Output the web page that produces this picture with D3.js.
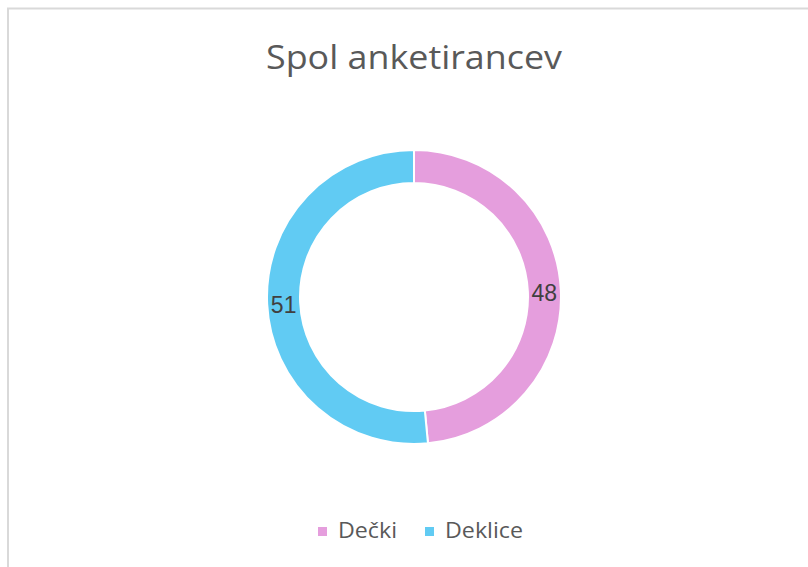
<!DOCTYPE html>
<html><head><meta charset="utf-8">
<script src="https://cdn.jsdelivr.net/npm/d3@7"></script>
<style>html,body{margin:0;padding:0;background:#fff;}svg{display:block;}</style>
</head><body>
<script>
const title = "Spol anketirancev";
const categories = ["Dečki", "Deklice"];
const values = [48, 51];
const colors = ["#E59EDD", "#61CBF3"];

const W = 808, H = 567;
const svg = d3.select("body").append("svg").attr("width", W).attr("height", H);
svg.append("rect").attr("x", 8).attr("y", 8.5).attr("width", W + 10).attr("height", H + 10)
  .attr("fill", "#fff").attr("stroke", "#d9d9d9").attr("stroke-width", 2);

svg.append("text").attr("x", 266).attr("y", 69)
  .attr("font-family", "Open Sans, sans-serif").attr("font-size", 33).attr("fill", "#595959")
  .attr("textLength", 296).attr("lengthAdjust", "spacingAndGlyphs")
  .text(title);

const cx = 414, cy = 297, rOut = 147, rIn = 114;
const pie = d3.pie().sort(null).value(d => d)(values);
const arc = d3.arc().innerRadius(rIn).outerRadius(rOut);
const g = svg.append("g").attr("transform", `translate(${cx},${cy})`);
g.selectAll("path").data(pie).join("path").attr("d", arc)
  .attr("fill", (d, i) => colors[i]).attr("stroke", "#fff").attr("stroke-width", 2);
const labelArc = d3.arc().innerRadius((rIn + rOut) / 2).outerRadius((rIn + rOut) / 2);
g.selectAll("text").data(pie).join("text")
  .attr("transform", d => { const c = labelArc.centroid(d); return `translate(${c[0]},${c[1] + 10})`; })
  .attr("text-anchor", "middle")
  .attr("font-family", "Liberation Sans, Arial, sans-serif").attr("font-size", 23).attr("fill", "#404040")
  .text(d => d.data);

// legend
const lg = svg.append("g");
const lx = [318, 425];
const tw = [59, 78];
categories.forEach((c, i) => {
  lg.append("rect").attr("x", lx[i]).attr("y", 527).attr("width", 9).attr("height", 9).attr("fill", colors[i]);
  lg.append("text").attr("x", lx[i] + 20).attr("y", 538).attr("font-family", "Open Sans, sans-serif")
    .attr("font-size", 21).attr("fill", "#595959")
    .attr("textLength", tw[i]).attr("lengthAdjust", "spacingAndGlyphs").text(c);
});
</script>
</body></html>
